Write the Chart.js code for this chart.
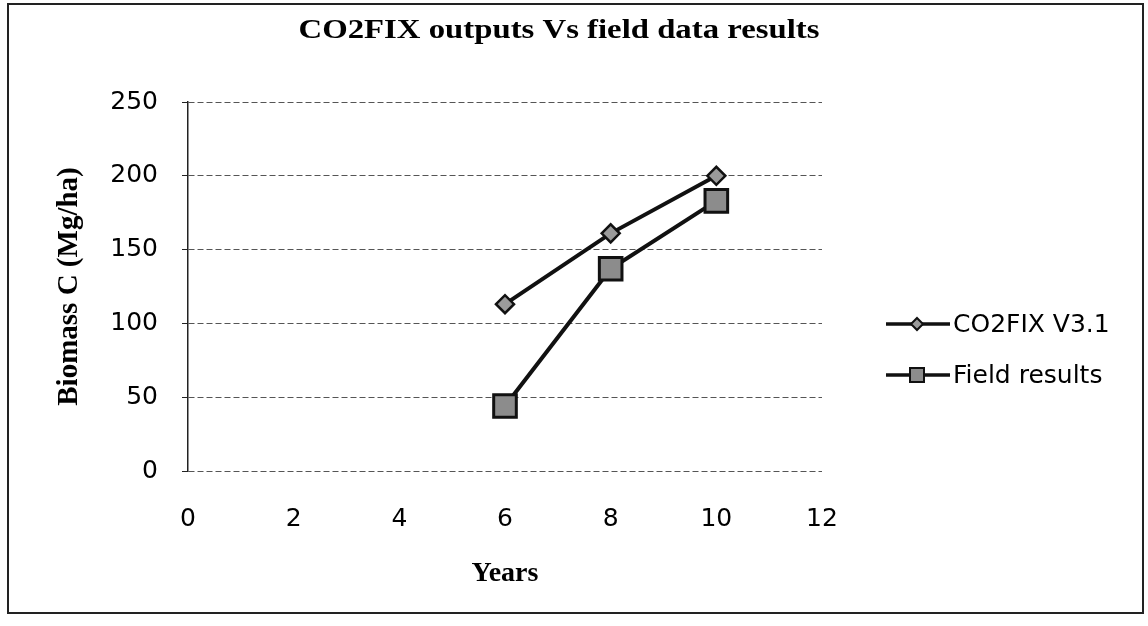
<!DOCTYPE html>
<html><head><meta charset="utf-8">
<script src="https://cdn.jsdelivr.net/npm/chart.js@4"></script>
<style>html,body{margin:0;padding:0;background:#fff}#wrap{width:1148px;height:626px;position:relative}</style>
</head><body><div id="wrap"><canvas id="c" width="1148" height="626"></canvas></div>
<script>
const years = [6, 8, 10];
const co2fixValues = [113, 161, 200];
const fieldValues = [44, 137, 183];
const seriesLabels = ['CO2FIX V3.1', 'Field results'];
const xTickValues = [0, 2, 4, 6, 8, 10, 12];
const yTickValues = [0, 50, 100, 150, 200, 250];
const chartTitle = 'CO2FIX outputs Vs field data results';
const xTitle = 'Years';
const yTitle = 'Biomass C (Mg/ha)';

const toPoints = (xs, ys) => xs.map((x, i) => ({x: x, y: ys[i]}));

const frame = {
  id: 'frame',
  beforeDraw(chart) {
    const ctx = chart.ctx;
    ctx.save();
    ctx.fillStyle = '#fff';
    ctx.fillRect(0, 0, chart.width, chart.height);
    ctx.strokeStyle = '#222';
    ctx.lineWidth = 2;
    ctx.strokeRect(8, 4, 1135, 609);
    ctx.restore();
  },
  afterDraw(chart) {
    const ctx = chart.ctx;
    ctx.save();
    // title (horizontally stretched like the scanned original)
    ctx.fillStyle = '#000';
    ctx.font = 'bold 28px "Liberation Serif"';
    ctx.textAlign = 'center';
    ctx.textBaseline = 'alphabetic';
    ctx.translate(559, 38);
    ctx.scale(1.17, 1);
    ctx.fillText(chartTitle, 0, 0);
    ctx.restore();

    // legend
    ctx.save();
    const ys = [324, 375];
    const mx = 917;
    chart.data.datasets.forEach((ds, i) => {
      const y = ys[i];
      ctx.strokeStyle = ds.borderColor;
      ctx.lineWidth = 3.5;
      ctx.beginPath(); ctx.moveTo(886, y); ctx.lineTo(950, y); ctx.stroke();
      ctx.fillStyle = ds.pointBackgroundColor;
      ctx.strokeStyle = ds.pointBorderColor;
      ctx.lineWidth = 2;
      ctx.beginPath();
      const r = ds.legendRadius;
      if (ds.pointStyle === 'rect') {
        ctx.rect(mx - r, y - r, 2 * r, 2 * r);
      } else {
        ctx.moveTo(mx, y - r); ctx.lineTo(mx + r, y); ctx.lineTo(mx, y + r); ctx.lineTo(mx - r, y); ctx.closePath();
      }
      ctx.fill(); ctx.stroke();
      ctx.fillStyle = '#000';
      ctx.font = '25px "DejaVu Sans"';
      ctx.textAlign = 'left';
      ctx.textBaseline = 'middle';
      ctx.fillText(ds.label, 953, y + 1);
    });
    ctx.restore();
  }
};

new Chart(document.getElementById('c'), {
  type: 'scatter',
  data: {
    datasets: [
      {
        label: seriesLabels[0], data: toPoints(years, co2fixValues), showLine: true,
        borderColor: '#111', borderWidth: 4, pointStyle: 'rectRot', pointRadius: 9,
        pointBackgroundColor: '#9b9b9b', pointBorderColor: '#111', pointBorderWidth: 2.5, legendRadius: 6
      },
      {
        label: seriesLabels[1], data: toPoints(years, fieldValues), showLine: true,
        borderColor: '#111', borderWidth: 4, pointStyle: 'rect', pointRadius: 16,
        pointBackgroundColor: '#8c8c8c', pointBorderColor: '#111', pointBorderWidth: 3, legendRadius: 7
      }
    ]
  },
  options: {
    responsive: false, animation: false, devicePixelRatio: 1,
    layout: {padding: {left: 10, right: 326, top: 102, bottom: 0}},
    plugins: {legend: {display: false}, title: {display: false}, tooltip: {enabled: false}},
    scales: {
      x: {
        type: 'linear', min: 0, max: 12,
        afterBuildTicks: s => { s.ticks = xTickValues.map(v => ({value: v})); },
        afterFit: s => { s.height = 155; },
        ticks: {color: '#000', font: {family: 'DejaVu Sans', size: 25}, padding: 33},
        grid: {display: false, drawTicks: false},
        border: {display: false},
        title: {display: true, text: xTitle, color: '#000', font: {family: 'Liberation Serif', size: 28, weight: 'bold'}, padding: {top: 0, bottom: 35}}
      },
      y: {
        min: 0, max: 250,
        afterBuildTicks: s => { s.ticks = yTickValues.map(v => ({value: v})); },
        afterFit: s => { s.width = 178; },
        ticks: {color: '#000', font: {family: 'DejaVu Sans', size: 25}, padding: 24},
        grid: {color: '#555', lineWidth: 1, drawTicks: true, tickLength: 6, tickColor: '#222', tickBorderDash: []},
        border: {display: true, color: '#222', width: 1.5, dash: [6, 3]},
        title: {display: true, text: yTitle, color: '#000', font: {family: 'Liberation Serif', size: 29, weight: 'bold'}, padding: {top: 42, bottom: 0}}
      }
    }
  },
  plugins: [frame]
});
</script></body></html>
